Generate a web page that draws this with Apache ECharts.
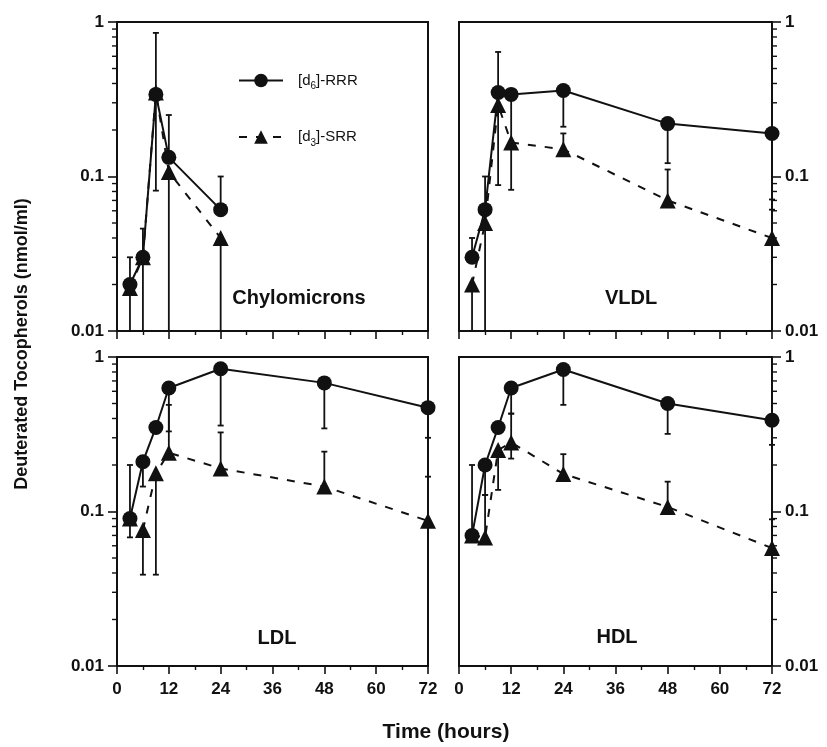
<!DOCTYPE html>
<html>
<head>
<meta charset="utf-8">
<script src="https://cdn.jsdelivr.net/npm/echarts@6/dist/echarts.min.js"></script>
<style>
html,body{margin:0;padding:0;background:#fff}
#chart{width:827px;height:747px}
</style>
</head>
<body>
<div id="chart"></div>
<script>
// time points (hours)
var chyloTimes = [3, 6, 9, 12, 24];
var times = [3, 6, 9, 12, 24, 48, 72];
var xTicks = [0, 12, 24, 36, 48, 60, 72];
var yTicks = [0.01, 0.1, 1];
var yMinor = [0.02, 0.03, 0.04, 0.05, 0.06, 0.07, 0.08, 0.09, 0.2, 0.3, 0.4, 0.5, 0.6, 0.7, 0.8, 0.9];

// chylomicrons
var chyloRRR = [0.02, 0.03, 0.34, 0.133, 0.061];
var chyloSRR = [0.019, 0.03, 0.35, 0.107, 0.04];
var chyloRRRHigh = [0.03, 0.046, 0.85, 0.25, 0.10];
var chyloRRRLow = [null, null, 0.081, null, null];
var chyloSRRHigh = [null, null, null, null, null];
var chyloSRRLow = [0.01, 0.01, null, 0.01, 0.01];

// VLDL
var vldlRRR = [0.03, 0.061, 0.35, 0.34, 0.36, 0.22, 0.19];
var vldlSRR = [0.02, 0.05, 0.29, 0.166, 0.15, 0.07, 0.04];
var vldlRRRHigh = [0.04, 0.10, 0.64, null, null, null, null];
var vldlRRRLow = [null, null, 0.088, 0.082, 0.21, 0.122, 0.071];
var vldlSRRHigh = [null, null, null, null, 0.19, 0.111, 0.061];
var vldlSRRLow = [0.01, 0.01, null, null, null, null, null];

// LDL
var ldlRRR = [0.09, 0.21, 0.35, 0.63, 0.84, 0.68, 0.47];
var ldlSRR = [0.09, 0.076, 0.177, 0.24, 0.19, 0.145, 0.087];
var ldlRRRHigh = [0.2, null, null, null, null, null, null];
var ldlRRRLow = [null, 0.145, null, 0.33, 0.36, 0.345, 0.30];
var ldlSRRHigh = [null, null, null, 0.49, 0.325, 0.244, 0.168];
var ldlSRRLow = [0.068, 0.039, 0.039, null, null, null, null];

// HDL
var hdlRRR = [0.07, 0.2, 0.35, 0.63, 0.83, 0.50, 0.39];
var hdlSRR = [0.07, 0.068, 0.25, 0.28, 0.175, 0.107, 0.058];
var hdlRRRHigh = [0.2, null, null, null, null, null, null];
var hdlRRRLow = [null, 0.128, null, 0.43, 0.49, 0.318, 0.27];
var hdlSRRHigh = [null, 0.128, null, 0.43, 0.235, 0.156, 0.089];
var hdlSRRLow = [null, null, 0.138, 0.22, null, null, null];

var panels = [
    {name: 'Chylomicrons', t: chyloTimes, rrr: chyloRRR, srr: chyloSRR,
     bars: [chyloRRRHigh, chyloRRRLow], sbars: [chyloSRRHigh, chyloSRRLow]},
    {name: 'VLDL', t: times, rrr: vldlRRR, srr: vldlSRR,
     bars: [vldlRRRHigh, vldlRRRLow], sbars: [vldlSRRHigh, vldlSRRLow]},
    {name: 'LDL', t: times, rrr: ldlRRR, srr: ldlSRR,
     bars: [ldlRRRHigh, ldlRRRLow], sbars: [ldlSRRHigh, ldlSRRLow]},
    {name: 'HDL', t: times, rrr: hdlRRR, srr: hdlSRR,
     bars: [hdlRRRHigh, hdlRRRLow], sbars: [hdlSRRHigh, hdlSRRLow]}
];

var INK = '#111';
var FONT = '"Liberation Sans", Arial, sans-serif';

var grids = [
    {left: 117, top: 22, width: 311, height: 309},
    {left: 459, top: 22, width: 313, height: 309},
    {left: 117, top: 357, width: 311, height: 309},
    {left: 459, top: 357, width: 313, height: 309}
];

function renderErr(params, api) {
    var x = api.value(0), y = api.value(1), b = api.value(2);
    var p1 = api.coord([x, y]), p2 = api.coord([x, b]);
    var w = 3;
    return {type: 'group', children: [
        {type: 'line', shape: {x1: p1[0], y1: p1[1], x2: p2[0], y2: p2[1]},
         style: {stroke: INK, lineWidth: 1.8}},
        {type: 'line', shape: {x1: p2[0] - w, y1: p2[1], x2: p2[0] + w, y2: p2[1]},
         style: {stroke: INK, lineWidth: 1.8}}
    ]};
}

function tickRenderer(right) {
    return function (params, api) {
        var p = api.coord([right ? 72 : 0, api.value(0)]);
        var d = right ? 5 : -5;
        return {type: 'line', shape: {x1: p[0], y1: p[1], x2: p[0] + d, y2: p[1]},
                style: {stroke: INK, lineWidth: 1.4}};
    };
}

var xAxes = [], yAxes = [], series = [];
panels.forEach(function (p, i) {
    var right = (i % 2 === 1);
    var bottom = (i >= 2);
    xAxes.push({
        gridIndex: i, type: 'value', min: 0, max: 72, interval: 12,
        axisLine: {onZero: false, lineStyle: {color: INK, width: 2}},
        axisTick: {length: 8, lineStyle: {color: INK, width: 1.6}},
        minorTick: {show: true, splitNumber: 2, length: 4, lineStyle: {color: INK, width: 1.4}},
        splitLine: {show: false},
        axisLabel: {show: bottom, margin: 15, color: INK, fontFamily: FONT, fontWeight: 'bold', fontSize: 17,
                    formatter: function (v) { return xTicks.indexOf(v) >= 0 ? String(v) : ''; }}
    });
    yAxes.push({
        gridIndex: i, type: 'log', logBase: 10, min: 0.01, max: 1,
        position: right ? 'right' : 'left',
        axisLine: {onZero: false, lineStyle: {color: INK, width: 2}},
        axisTick: {length: 9, lineStyle: {color: INK, width: 1.6}},
        splitLine: {show: false},
        axisLabel: {margin: 13, color: INK, fontFamily: FONT, fontWeight: 'bold', fontSize: 17,
                    formatter: function (v) {
                        var r = yTicks.filter(function (t) { return Math.abs(Math.log10(t) - Math.log10(v)) < 0.01; });
                        return r.length ? String(r[0]) : '';
                    }}
    });

    var err = [];
    [p.bars, p.sbars].forEach(function (pair, k) {
        var vals = k === 0 ? p.rrr : p.srr;
        pair.forEach(function (arr) {
            arr.forEach(function (b, j) {
                if (b !== null) err.push([p.t[j], vals[j], b]);
            });
        });
    });
    series.push({
        type: 'custom', xAxisIndex: i, yAxisIndex: i, renderItem: renderErr,
        data: err, silent: true, z: 2
    });
    series.push({
        type: 'custom', xAxisIndex: i, yAxisIndex: i, renderItem: tickRenderer(right),
        data: yMinor.map(function (v) { return [v]; }), encode: {y: 0}, silent: true, clip: false, z: 3
    });
    series.push({
        name: 'RRR', type: 'line', xAxisIndex: i, yAxisIndex: i,
        data: p.t.map(function (t, j) { return [t, p.rrr[j]]; }),
        symbol: 'circle', symbolSize: 15,
        lineStyle: {color: INK, width: 2},
        itemStyle: {color: INK}, z: 5
    });
    series.push({
        name: 'SRR', type: 'line', xAxisIndex: i, yAxisIndex: i,
        data: p.t.map(function (t, j) { return [t, p.srr[j]]; }),
        symbol: 'triangle', symbolSize: 16,
        lineStyle: {color: INK, width: 2, type: [8, 9]},
        itemStyle: {color: INK}, z: 4
    });
});

var labelPos = [[299, 298], [631, 298], [277, 638], [617, 637]];
var graphics = panels.map(function (p, i) {
    return {type: 'text', x: labelPos[i][0], y: labelPos[i][1],
            style: {text: p.name, font: 'bold 20px ' + FONT, fill: INK,
                    textAlign: 'center', textVerticalAlign: 'middle'}};
});
graphics.push({type: 'text', x: 22, y: 344, rotation: Math.PI / 2,
    style: {text: 'Deuterated Tocopherols (nmol/ml)', font: 'bold 18px ' + FONT, fill: INK,
            textAlign: 'center', textVerticalAlign: 'middle'}});
graphics.push({type: 'text', x: 446, y: 732,
    style: {text: 'Time (hours)', font: 'bold 21px ' + FONT, fill: INK,
            textAlign: 'center', textVerticalAlign: 'middle'}});

var chart = echarts.init(document.getElementById('chart'), null, {renderer: 'canvas'});
chart.setOption({
    animation: false,
    backgroundColor: '#fff',
    grid: grids.map(function (g) {
        return Object.assign({show: true, borderColor: INK, borderWidth: 2, backgroundColor: 'transparent', containLabel: false}, g);
    }),
    xAxis: xAxes,
    yAxis: yAxes,
    legend: {
        data: ['RRR', 'SRR'], orient: 'vertical', left: 233, top: 68,
        itemWidth: 44, itemHeight: 17, itemGap: 38,
        formatter: function (n) {
            return n === 'RRR' ? '{t|[d}{s|6}{t|]-RRR}' : '{t|[d}{s|3}{t|]-SRR}';
        },
        textStyle: {
            color: INK, fontFamily: FONT, padding: [0, 0, 0, 10],
            rich: {
                t: {fontSize: 15, fontFamily: FONT, color: INK},
                s: {fontSize: 10, fontFamily: FONT, color: INK, padding: [12, 0, 0, 0]}
            }
        }
    },
    graphic: graphics,
    series: series
});
</script>
</body>
</html>
